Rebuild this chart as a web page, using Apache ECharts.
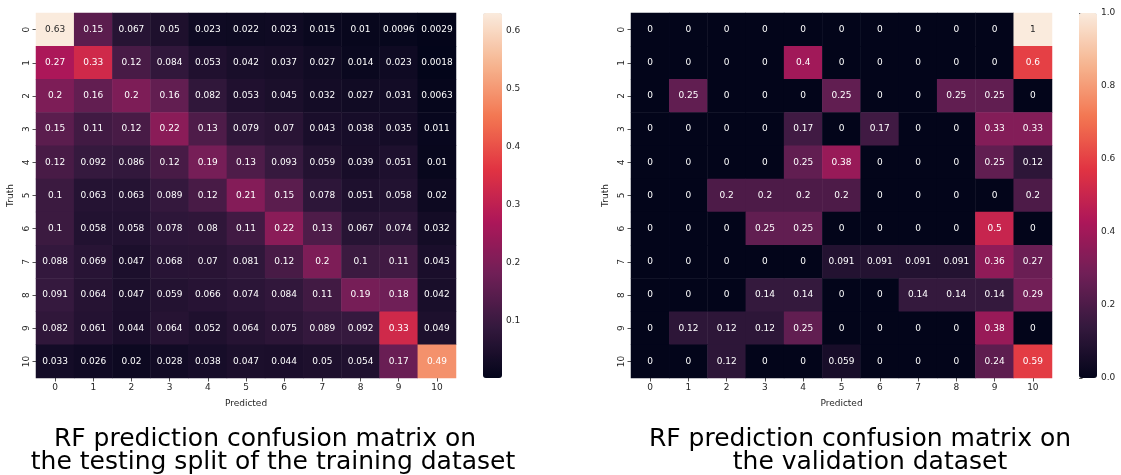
<!DOCTYPE html>
<html>
<head>
<meta charset="utf-8">
<script src="https://cdn.jsdelivr.net/npm/echarts@6/dist/echarts.min.js"></script>
<style>
  html, body { margin: 0; padding: 0; background: #fff; }
  #chart { width: 1121px; height: 475px; }
</style>
</head>
<body>
<div id="chart"></div>
<script>
// Class labels shared by both confusion matrices
const classes = ['0', '1', '2', '3', '4', '5', '6', '7', '8', '9', '10'];

// Row = truth, column = predicted (row-normalised)
const trainMatrix = [
  [0.63, 0.15, 0.067, 0.05, 0.023, 0.022, 0.023, 0.015, 0.01, 0.0096, 0.0029],
  [0.27, 0.33, 0.12, 0.084, 0.053, 0.042, 0.037, 0.027, 0.014, 0.023, 0.0018],
  [0.2, 0.16, 0.2, 0.16, 0.082, 0.053, 0.045, 0.032, 0.027, 0.031, 0.0063],
  [0.15, 0.11, 0.12, 0.22, 0.13, 0.079, 0.07, 0.043, 0.038, 0.035, 0.011],
  [0.12, 0.092, 0.086, 0.12, 0.19, 0.13, 0.093, 0.059, 0.039, 0.051, 0.01],
  [0.1, 0.063, 0.063, 0.089, 0.12, 0.21, 0.15, 0.078, 0.051, 0.058, 0.02],
  [0.1, 0.058, 0.058, 0.078, 0.08, 0.11, 0.22, 0.13, 0.067, 0.074, 0.032],
  [0.088, 0.069, 0.047, 0.068, 0.07, 0.081, 0.12, 0.2, 0.1, 0.11, 0.043],
  [0.091, 0.064, 0.047, 0.059, 0.066, 0.074, 0.084, 0.11, 0.19, 0.18, 0.042],
  [0.082, 0.061, 0.044, 0.064, 0.052, 0.064, 0.075, 0.089, 0.092, 0.33, 0.049],
  [0.033, 0.026, 0.02, 0.028, 0.038, 0.047, 0.044, 0.05, 0.054, 0.17, 0.49]
];

const validMatrix = [
  [0, 0, 0, 0, 0, 0, 0, 0, 0, 0, 1],
  [0, 0, 0, 0, 0.4, 0, 0, 0, 0, 0, 0.6],
  [0, 0.25, 0, 0, 0, 0.25, 0, 0, 0.25, 0.25, 0],
  [0, 0, 0, 0, 0.17, 0, 0.17, 0, 0, 0.33, 0.33],
  [0, 0, 0, 0, 0.25, 0.38, 0, 0, 0, 0.25, 0.12],
  [0, 0, 0.2, 0.2, 0.2, 0.2, 0, 0, 0, 0, 0.2],
  [0, 0, 0, 0.25, 0.25, 0, 0, 0, 0, 0.5, 0],
  [0, 0, 0, 0, 0, 0.091, 0.091, 0.091, 0.091, 0.36, 0.27],
  [0, 0, 0, 0.14, 0.14, 0, 0, 0.14, 0.14, 0.14, 0.29],
  [0, 0.12, 0.12, 0.12, 0.25, 0, 0, 0, 0, 0.38, 0],
  [0, 0, 0.12, 0, 0, 0.059, 0, 0, 0, 0.24, 0.59]
];

// Colour bar tick values
const trainTicks = [0.1, 0.2, 0.3, 0.4, 0.5, 0.6];
const validTicks = [0, 0.2, 0.4, 0.6, 0.8, 1.0];

// "rocket" colour map, evenly spaced stops
const rocket = ['#03051a', '#35193e', '#701f57', '#ad1759', '#e13342', '#f37651', '#f6b48f', '#faebdd'];

// Caption lines under each matrix
const trainCaption = ['RF prediction confusion matrix on', 'the testing split of the training dataset'];
const validCaption = ['RF prediction confusion matrix on', 'the validation dataset'];

const FONT = 'DejaVu Sans';
const TEXT = '#262626';

function hexRgb(h) {
  return [parseInt(h.slice(1, 3), 16), parseInt(h.slice(3, 5), 16), parseInt(h.slice(5, 7), 16)];
}
function colourAt(t) {
  t = Math.max(0, Math.min(1, t));
  const n = rocket.length - 1;
  const i = Math.min(n - 1, Math.floor(t * n));
  const f = t * n - i;
  const a = hexRgb(rocket[i]), b = hexRgb(rocket[i + 1]);
  return a.map((v, k) => v + (b[k] - v) * f);
}
function luminance(rgb) {
  const c = rgb.map(v => {
    v /= 255;
    return v <= 0.03928 ? v / 12.92 : Math.pow((v + 0.055) / 1.055, 2.4);
  });
  return 0.2126 * c[0] + 0.7152 * c[1] + 0.0722 * c[2];
}

// Heatmap items with a readable annotation colour for each cell
function flatten(m) {
  let lo = Infinity, hi = -Infinity;
  m.forEach(r => r.forEach(v => { lo = Math.min(lo, v); hi = Math.max(hi, v); }));
  const data = [];
  m.forEach((row, y) => row.forEach((v, x) => {
    const lum = luminance(colourAt((v - lo) / (hi - lo)));
    data.push({ value: [x, y, v], label: { color: lum > 0.408 ? TEXT : '#ffffff' } });
  }));
  return { data, lo, hi };
}

const train = flatten(trainMatrix);
const valid = flatten(validMatrix);

const tickLabel = { fontFamily: FONT, fontSize: 9, color: TEXT };

function catX(grid) {
  return {
    type: 'category', gridIndex: grid, data: classes, position: 'bottom',
    name: 'Predicted', nameLocation: 'middle', nameGap: 21,
    nameTextStyle: { fontFamily: FONT, fontSize: 9, color: TEXT },
    axisLine: { show: false },
    axisTick: { show: true, alignWithLabel: true, length: 3.5, lineStyle: { color: TEXT, width: 0.8 } },
    axisLabel: Object.assign({ margin: 5, interval: 0 }, tickLabel),
    splitLine: { show: false }
  };
}
function catY(grid) {
  return {
    type: 'category', gridIndex: grid, data: classes, inverse: true,
    name: 'Truth', nameLocation: 'middle', nameGap: 21, nameRotate: 90,
    nameTextStyle: { fontFamily: FONT, fontSize: 9, color: TEXT },
    axisLine: { show: false },
    axisTick: { show: true, alignWithLabel: true, length: 3.5, lineStyle: { color: TEXT, width: 0.8 } },
    axisLabel: Object.assign({ margin: 5, interval: 0, rotate: 90 }, tickLabel),
    splitLine: { show: false }
  };
}
function barY(grid, lo, hi, ticks, fmt) {
  return {
    type: 'value', gridIndex: grid, min: lo, max: hi, position: 'right',
    axisLine: { show: false },
    splitLine: { show: false },
    axisTick: { show: true, length: 3.5, customValues: ticks, lineStyle: { color: TEXT, width: 0.8 } },
    axisLabel: Object.assign({ margin: 4, customValues: ticks, formatter: fmt }, tickLabel)
  };
}
function hiddenX(grid) {
  return { type: 'value', gridIndex: grid, show: false, min: 0, max: 1 };
}
function captionLine(text, centre, top) {
  return {
    text, left: centre, top, textAlign: 'center', padding: 0,
    textStyle: { fontFamily: FONT, fontSize: 25, fontWeight: 'normal', color: '#000', lineHeight: 25 }
  };
}

const cellLabel = {
  show: true, fontFamily: FONT, fontSize: 9,
  formatter: p => String(p.value[2])
};

const option = {
  animation: false,
  backgroundColor: '#ffffff',
  title: [
    captionLine(trainCaption[0], 265, 427),
    captionLine(trainCaption[1], 273, 450),
    captionLine(validCaption[0], 860, 427),
    captionLine(validCaption[1], 870, 450)
  ],
  grid: [
    { left: 36, top: 13, width: 420, height: 365 },
    { left: 483, top: 13, width: 19, height: 365 },
    { left: 631, top: 13, width: 421, height: 365 },
    { left: 1079, top: 13, width: 18, height: 365 }
  ],
  xAxis: [catX(0), hiddenX(1), catX(2), hiddenX(3)],
  yAxis: [
    catY(0),
    barY(1, train.lo, train.hi, trainTicks, v => v.toFixed(1)),
    catY(2),
    barY(3, 0, 1, validTicks, v => v.toFixed(1))
  ],
  visualMap: [
    { type: 'continuous', seriesIndex: 0, min: train.lo, max: train.hi,
      calculable: false, left: 483, top: 13, itemWidth: 19, itemHeight: 365,
      padding: 0, text: null, showLabel: false, hoverLink: false,
      inRange: { color: rocket } },
    { type: 'continuous', seriesIndex: 1, min: valid.lo, max: valid.hi,
      calculable: false, left: 1079, top: 13, itemWidth: 18, itemHeight: 365,
      padding: 0, text: null, showLabel: false, hoverLink: false,
      inRange: { color: rocket } }
  ],
  series: [
    { type: 'heatmap', xAxisIndex: 0, yAxisIndex: 0, data: train.data, label: cellLabel,
      itemStyle: { borderWidth: 0 }, emphasis: { disabled: true } },
    { type: 'heatmap', xAxisIndex: 2, yAxisIndex: 2, data: valid.data, label: cellLabel,
      itemStyle: { borderWidth: 0 }, emphasis: { disabled: true } },
    { type: 'line', xAxisIndex: 1, yAxisIndex: 1, data: [], silent: true },
    { type: 'line', xAxisIndex: 3, yAxisIndex: 3, data: [], silent: true }
  ]
};

const chart = echarts.init(document.getElementById('chart'), null, { renderer: 'canvas' });
chart.setOption(option);
</script>
</body>
</html>
